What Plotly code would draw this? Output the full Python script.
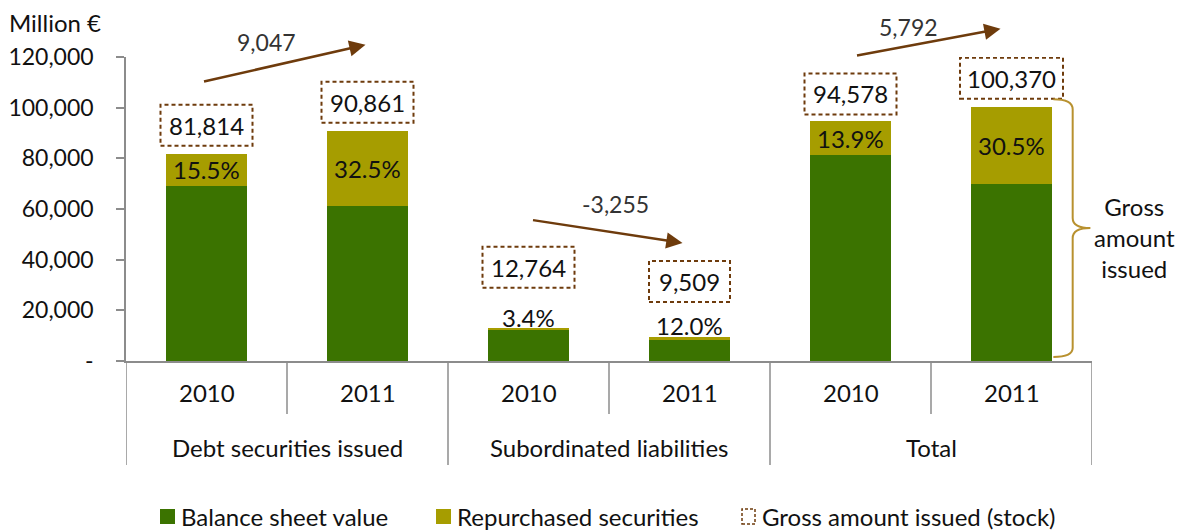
import plotly.graph_objects as go

# ---- data -------------------------------------------------------------
groups = ["Debt securities issued", "Subordinated liabilities", "Total"]
years = ["2010", "2011", "2010", "2011", "2010", "2011"]
gross_issued = [81814, 90861, 12764, 9509, 94578, 100370]
repurchased_pct = [15.5, 32.5, 3.4, 12.0, 13.9, 30.5]
changes = [9047, -3255, 5792]
y_ticks = [0, 20000, 40000, 60000, 80000, 100000, 120000]
y_tick_text = ["-", "20,000", "40,000", "60,000", "80,000", "100,000", "120,000"]

repurchased = [g * p / 100 for g, p in zip(gross_issued, repurchased_pct)]
balance = [g - r for g, r in zip(gross_issued, repurchased)]

# ---- style ------------------------------------------------------------
GREEN = "#3B7300"
OLIVE = "#A69D00"
BROWN = "#6E3B0C"
GOLD = "#B8912F"
GRID = "#8C8C8C"
FONT = "Lato"
FS = 24

W, H = 1184, 530
L, R, T, B = 126, 92, 57, 169
PW, PH = W - L - R, H - T - B
YMAX = 120000


def px_x(px):
    return (px - L) / PW


def px_y(py):
    return (H - B - py) / PH


x_pos = [i + 0.5 for i in range(len(gross_issued))]

fig = go.Figure()
fig.add_trace(go.Bar(x=x_pos, y=balance, width=0.5, marker_color=GREEN,
                     marker_line_width=0, name="Balance sheet value",
                     showlegend=False, hoverinfo="skip"))
fig.add_trace(go.Bar(x=x_pos, y=repurchased, width=0.5, marker_color=OLIVE,
                     marker_line_width=0, name="Repurchased securities",
                     showlegend=False, hoverinfo="skip"))

shapes = []
annotations = []
ppu = PH / YMAX  # pixels per unit on the value axis

# gap (px) between bar top and the dashed gross box
box_gap = [8, 8, 41, 35, 7, 8]
for i, (x, g, r, p) in enumerate(zip(x_pos, gross_issued, repurchased, repurchased_pct)):
    # percentage label: inside the repurchased segment if tall enough
    seg_px = r * ppu
    if seg_px > 26:
        annotations.append(dict(x=x, y=g - r / 2, xref="x", yref="y",
                                text=f"{p:.1f}%", showarrow=False,
                                xanchor="center", yanchor="middle",
                                font=dict(size=FS, color="#111")))
    else:
        annotations.append(dict(x=x, y=g, xref="x", yref="y",
                                text=f"{p:.1f}%", showarrow=False,
                                xanchor="center", yanchor="bottom", yshift=-5,
                                font=dict(size=FS, color="#111")))
    # gross amount in a dashed box
    label = f"{g:,}"
    half = 13 + 5.5 * len(label)
    gap = box_gap[i]
    shapes.append(dict(type="rect", xref="x", yref="y",
                       xsizemode="pixel", xanchor=x, x0=-half, x1=half,
                       ysizemode="pixel", yanchor=g, y0=gap, y1=gap + 41,
                       line=dict(color=BROWN, width=2, dash="4px,3px"),
                       fillcolor="rgba(0,0,0,0)"))
    annotations.append(dict(x=x, y=g, xref="x", yref="y", text=label,
                            showarrow=False, xanchor="center", yanchor="middle",
                            yshift=gap + 20.5, font=dict(size=FS, color="#111")))

# change arrows between 2010 and 2011 (tip offset, tail offset, label offset in px)
arrow_geom = [
    dict(tip=(-2, 86), tail=(-163, 37), lab=(-101, 89)),
    dict(tip=(-7, 94), tail=(-151, -23), lab=(-74, 133)),
    dict(tip=(-11, 78), tail=(-145, 27), lab=(-103, 80)),
]
for k, ch in enumerate(changes):
    j = 2 * k + 1
    geo = arrow_geom[k]
    annotations.append(dict(x=x_pos[j], y=gross_issued[j], xref="x", yref="y",
                            xshift=geo["tip"][0], yshift=geo["tip"][1],
                            ax=geo["tail"][0], ay=geo["tail"][1],
                            axref="pixel", ayref="pixel", text="",
                            showarrow=True, arrowhead=2, arrowsize=1.3,
                            arrowwidth=2.5, arrowcolor=BROWN))
    annotations.append(dict(x=x_pos[j], y=gross_issued[j], xref="x", yref="y",
                            xshift=geo["lab"][0], yshift=geo["lab"][1],
                            text=f"{ch:,}", showarrow=False,
                            xanchor="center", yanchor="middle",
                            font=dict(size=FS - 1, color="#333")))

# category axis: year labels, group labels and separators
for x, yr in zip(x_pos, years):
    annotations.append(dict(x=x, y=px_y(393), xref="x", yref="paper", text=yr,
                            showarrow=False, xanchor="center", yanchor="middle",
                            font=dict(size=FS, color="#111")))
for k, gname in enumerate(groups):
    annotations.append(dict(x=2 * k + 1, y=px_y(447), xref="x", yref="paper",
                            text=gname, showarrow=False, xanchor="center",
                            yanchor="middle", font=dict(size=FS, color="#111")))
for b in range(len(gross_issued) + 1):
    bottom = 465 if b % 2 == 0 else 414
    shapes.append(dict(type="line", xref="x", yref="paper", x0=b, x1=b,
                       y0=0, y1=px_y(bottom), line=dict(color=GRID, width=1.5)))

# brace marking the gross amount of the total 2011 bar
xb = 5.88
xl = 5.76
xt = 5.99
ytop = gross_issued[5] + 3000
ybot = 1600
ymid = (ytop + ybot) / 2
path = (f"M {xl},{ytop} Q {xb},{ytop} {xb},{ytop - 4000} "
        f"L {xb},{ymid + 4000} Q {xb},{ymid} {xt},{ymid} "
        f"Q {xb},{ymid} {xb},{ymid - 4000} "
        f"L {xb},{ybot + 3500} Q {xb},{ybot} {xl},{ybot}")
shapes.append(dict(type="path", xref="x", yref="y", path=path,
                   line=dict(color=GOLD, width=2)))
annotations.append(dict(x=px_x(1134), y=px_y(237), xref="paper", yref="paper",
                        text="Gross<br>amount<br>issued", showarrow=False,
                        xanchor="center", yanchor="middle", align="center",
                        font=dict(size=FS, color="#111")))

# unit label
annotations.append(dict(x=px_x(7), y=px_y(22), xref="paper", yref="paper",
                        text="Million €", showarrow=False, xanchor="left",
                        yanchor="middle", font=dict(size=FS, color="#111")))

# legend
legend_items = [
    (160, GREEN, None, "Balance sheet value"),
    (436, OLIVE, None, "Repurchased securities"),
    (741, None, BROWN, "Gross amount issued (stock)"),
]
ly = 516
for x0, fill, border, text in legend_items:
    if fill:
        shapes.append(dict(type="rect", xref="paper", yref="paper",
                           x0=px_x(x0), x1=px_x(x0 + 15), y0=px_y(ly + 8), y1=px_y(ly - 7),
                           fillcolor=fill, line=dict(width=0)))
    else:
        shapes.append(dict(type="rect", xref="paper", yref="paper",
                           x0=px_x(x0 + 1), x1=px_x(x0 + 14), y0=px_y(ly + 8), y1=px_y(ly - 7),
                           fillcolor="rgba(0,0,0,0)",
                           line=dict(color=border, width=1.5, dash="3px,2px")))
    annotations.append(dict(x=px_x(x0 + 19), y=px_y(ly), xref="paper", yref="paper",
                            text=text, showarrow=False, xanchor="left",
                            yanchor="middle", font=dict(size=FS, color="#111")))

fig.update_layout(
    width=W, height=H, barmode="stack",
    margin=dict(l=L, r=R, t=T, b=B, pad=0, autoexpand=False),
    paper_bgcolor="white", plot_bgcolor="white",
    font=dict(family=FONT, size=FS, color="#111"),
    showlegend=False,
    xaxis=dict(range=[0, 6], showgrid=False, zeroline=False, showticklabels=False,
               ticks="", showline=True, linecolor=GRID, linewidth=1.5,
               automargin=False, fixedrange=True),
    yaxis=dict(range=[0, YMAX], tickvals=y_ticks, ticktext=y_tick_text,
               showgrid=False, zeroline=False, showline=True, linecolor=GRID,
               linewidth=1.5, ticks="outside", ticklen=8, tickcolor=GRID,
               tickwidth=1.5, ticklabelstandoff=18, automargin=False,
               tickfont=dict(size=23, color="#111", family=FONT)),
    shapes=shapes, annotations=annotations,
)

fig.write_html("out.html")
